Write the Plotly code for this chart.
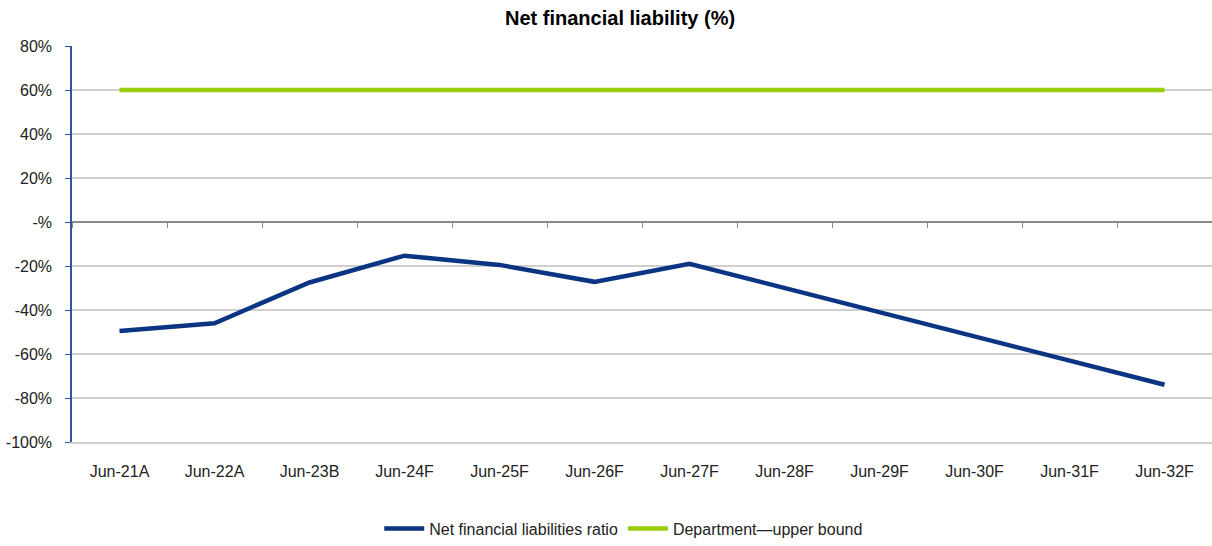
import plotly.graph_objects as go

categories = ["Jun-21A", "Jun-22A", "Jun-23B", "Jun-24F", "Jun-25F", "Jun-26F",
              "Jun-27F", "Jun-28F", "Jun-29F", "Jun-30F", "Jun-31F", "Jun-32F"]
nfl_ratio = [-49.5, -46.0, -27.5, -15.3, -19.5, -27.2, -19.0, -30.0, -41.0, -52.0, -63.0, -74.0]
upper_bound = [60] * 12
y_tick_vals = [80, 60, 40, 20, 0, -20, -40, -60, -80, -100]
y_tick_text = ["80%", "60%", "40%", "20%", "-%", "-20%", "-40%", "-60%", "-80%", "-100%"]

FONT = "Liberation Sans Narrow, Arial Narrow, Liberation Sans, Arial, sans-serif"

fig = go.Figure()
fig.add_trace(go.Scatter(x=categories, y=nfl_ratio, mode="lines",
                         name="Net financial liabilities ratio",
                         line=dict(color="#0B3583", width=4.5)))
fig.add_trace(go.Scatter(x=categories, y=upper_bound, mode="lines",
                         name="Department\u2014upper bound",
                         line=dict(color="#99CC0A", width=4.5)))
# invisible trace to carry the category tick marks on the zero line
fig.add_trace(go.Scatter(x=categories, y=[None] * len(categories), xaxis="x2",
                         showlegend=False, hoverinfo="skip"))

fig.update_layout(
    width=1212, height=546,
    margin=dict(l=72, r=0, t=46, b=102),
    paper_bgcolor="white", plot_bgcolor="white",
    font=dict(family=FONT, size=16, color="#222222"),
    title=dict(text="<b>Net financial liability (%)</b>", x=0.5116, xanchor="center",
               y=0.967, yanchor="middle", font=dict(family=FONT, size=20, color="#000000")),
    xaxis=dict(type="category", categoryorder="array", categoryarray=categories,
               range=[-0.5, 11.5], showgrid=False, zeroline=False,
               showline=True, linecolor="#CFCFCF", linewidth=1.5,
               ticks="", ticklabelstandoff=14, tickfont=dict(size=16, color="#222222")),
    xaxis2=dict(type="category", categoryorder="array", categoryarray=categories,
                matches="x", overlaying="x", anchor="free", position=(100 / 180),
                showline=True, linecolor="#8C8C8C", linewidth=1.5,
                ticks="outside", tickson="boundaries", ticklen=5, tickcolor="#8C8C8C",
                showticklabels=False, showgrid=False, zeroline=False),
    yaxis=dict(range=[-100, 80], tickvals=y_tick_vals, ticktext=y_tick_text,
               showgrid=True, gridcolor="#CFCFCF", gridwidth=1.5,
               zeroline=False, showline=True, linecolor="#2E54A0", linewidth=1.5,
               ticks="outside", ticklen=5, tickcolor="#2E54A0", ticklabelstandoff=10,
               tickfont=dict(size=16, color="#222222")),
    legend=dict(orientation="h", x=0.484, xanchor="center", y=-0.2186, yanchor="middle",
                font=dict(size=16, color="#222222"), itemwidth=40,
                tracegroupgap=0),
    showlegend=True,
)

fig.write_html("out.html", config={"displayModeBar": False},
               post_script="document.body.style.margin='0';document.body.style.overflow='hidden';")
